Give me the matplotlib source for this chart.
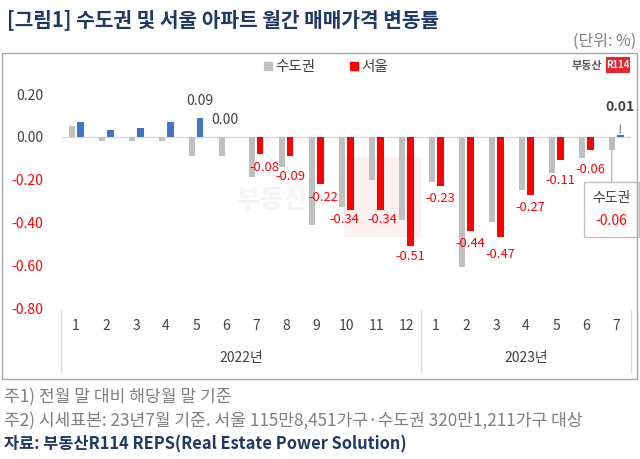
import matplotlib.pyplot as plt
import matplotlib.transforms as mtransforms
from matplotlib.patches import Rectangle
from matplotlib.lines import Line2D
from matplotlib.offsetbox import TextArea, VPacker, AnnotationBbox
import numpy as np

plt.rcParams['font.family'] = ['Noto Sans CJK KR', 'DejaVu Sans']
plt.rcParams['axes.unicode_minus'] = False

# data
months = ['1', '2', '3', '4', '5', '6', '7', '8', '9', '10', '11', '12',
          '1', '2', '3', '4', '5', '6', '7']
years = ['2022년', '2023년']
year_len = [12, 7]
metro = [0.05, -0.02, -0.02, -0.02, -0.09, -0.09, -0.19, -0.14, -0.41, -0.33,
         -0.20, -0.39, -0.21, -0.61, -0.40, -0.25, -0.17, -0.10, -0.06]
seoul = [0.07, 0.03, 0.04, 0.07, 0.09, 0.00, -0.08, -0.09, -0.22, -0.34,
         -0.34, -0.51, -0.23, -0.44, -0.47, -0.27, -0.11, -0.06, 0.01]
yticks = [0.2, 0.0, -0.2, -0.4, -0.6, -0.8]
label_from = 4  # Seoul labels start from 2022/5

GRAY = '#BFBFBF'
RED = '#FF0000'
BLUE = '#4472C4'
NAVY = '#1F3864'
DARK = '#404040'

W, H = 640, 459
fig = plt.figure(figsize=(6.4, 4.59), dpi=100)

def fx(px):
    return px / W

def fy(py):
    return 1 - py / H

# outer panel border
fig.patches.append(Rectangle((fx(2), fy(379)), fx(635), (379 - 53) / H,
                             transform=fig.transFigure, fill=False,
                             edgecolor='#A6A6A6', lw=1))

# title and unit
fig.text(fx(7), fy(20), '[그림1] 수도권 및 서울 아파트 월간 매매가격 변동률',
         fontsize=14.6, fontweight='bold', color=NAVY, va='center', ha='left')
fig.text(fx(636), fy(41), '(단위: %)', fontsize=11.5, color='#7F7F7F',
         va='center', ha='right')

ax = fig.add_axes([fx(61), fy(308), fx(570), (308 - 94) / H])
x = np.arange(len(months))
off, bw = 0.14, 0.22

# faint watermark
ax.text(0.37, 0.5, '부동산', transform=ax.transAxes, fontsize=19,
        fontweight='bold', color='#F4F4F4', ha='center', va='center', zorder=0)
ax.add_patch(Rectangle((0.497, 0.33), 0.135, 0.375, transform=ax.transAxes,
                       facecolor='#FDF0F0', edgecolor='none', zorder=0))

seoul_colors = [BLUE if v >= 0 else RED for v in seoul]
ax.bar(x - off, metro, width=bw, color=GRAY, zorder=2, label='수도권')
ax.bar(x + off, seoul, width=bw, color=seoul_colors, zorder=2, label='서울')
ax.axhline(0, color='#D9D9D9', lw=1, zorder=1)

ax.set_xlim(-0.5, len(months) - 0.5)
ax.set_ylim(-0.8, 0.2)
ax.set_yticks(yticks)
ax.set_yticklabels([f'{v:.2f}' for v in yticks], fontsize=10)
for lbl, v in zip(ax.get_yticklabels(), yticks):
    lbl.set_color(RED if v < 0 else DARK)
ax.tick_params(axis='y', length=0, pad=13)
ax.set_xticks([])
for s in ax.spines.values():
    s.set_visible(False)

# data labels for Seoul (label placement tweaks, in points)
nudge_x = {5: -4, 6: 3, 8: 2, 9: -4, 10: 1.5}
nudge_y = {6: -9.5, 7: -14.5, 8: -9.5, 9: -7.5, 10: -7.5, 11: -7.5,
           12: -9, 13: -9, 14: -12, 15: -9, 16: -14.5, 17: -14.5}
last = len(seoul) - 1
for i in range(label_from, last):
    v = seoul[i]
    dx = nudge_x.get(i, 0)
    if v >= 0:
        ax.annotate(f'{v:.2f}', (x[i] + off, v), xytext=(dx, 12),
                    textcoords='offset points', ha='center', va='center',
                    fontsize=10, color=DARK)
    else:
        ax.annotate(f'{v:.2f}', (x[i] + off, v), xytext=(dx, nudge_y.get(i, -10)),
                    textcoords='offset points', ha='center', va='center',
                    fontsize=9.3, color=RED)
ax.annotate(f'{seoul[last]:.2f}', (x[last] + off, seoul[last]), xytext=(0, 20),
            textcoords='offset points', ha='center', va='center', fontsize=10,
            fontweight='bold', color=DARK,
            arrowprops=dict(arrowstyle='-', color='#7F7F7F', lw=0.8,
                            shrinkA=6, shrinkB=1))

# callout for metro last value
box = VPacker(children=[
    TextArea('수도권', textprops=dict(fontsize=10, color=DARK)),
    TextArea(f'{metro[last]:.2f}', textprops=dict(fontsize=10, color=RED))],
    align='center', pad=0, sep=7)
ab = AnnotationBbox(box, (x[last] - off, metro[last]), xybox=(0, -43),
                    boxcoords='offset points', frameon=True, pad=0.6,
                    bboxprops=dict(edgecolor='#BFBFBF', facecolor='white', lw=1),
                    arrowprops=dict(arrowstyle='-', color='#A6A6A6', lw=0.8,
                                    shrinkA=0, shrinkB=0))
ax.add_artist(ab)

# category labels (two levels)
trans = mtransforms.blended_transform_factory(ax.transData, ax.transAxes)
for i, m in enumerate(months):
    ax.text(x[i], -0.085, m, transform=trans, ha='center', va='center',
            fontsize=10, color=DARK)
start = 0
bounds = [-0.5]
for yr, n in zip(years, year_len):
    ax.text(start + (n - 1) / 2, -0.232, yr, transform=trans, ha='center',
            va='center', fontsize=10, color=DARK)
    start += n
    bounds.append(start - 0.5)
for b in bounds:
    ax.add_line(Line2D([b, b], [-0.01, -0.30], transform=trans, color='#D9D9D9',
                       lw=1, clip_on=False))

# legend
handles = [Line2D([], [], marker='s', ls='none', color=GRAY, markersize=6),
           Line2D([], [], marker='s', ls='none', color=RED, markersize=6)]
fig.legend(handles, ['수도권', '서울'], loc='center', ncol=2,
           bbox_to_anchor=(fx(325), fy(67)), frameon=False, fontsize=10.5,
           handletextpad=0.1, columnspacing=2.2, handlelength=0.8,
           labelcolor=DARK)

# logo
fig.text(fx(602), fy(65), '부동산', fontsize=8, fontweight='bold',
         color='#595959', ha='right', va='center')
fig.patches.append(Rectangle((fx(606), fy(73)), fx(23.5), 16.5 / H,
                             transform=fig.transFigure, facecolor='#E8242F',
                             edgecolor='none'))
fig.text(fx(617.8), fy(65), 'R114', fontsize=6.8, fontweight='bold',
         color='white', ha='center', va='center')

# notes
fig.text(fx(4), fy(397), '주1) 전월 말 대비 해당월 말 기준', fontsize=12.3,
         color='#7F7F7F', va='center')
fig.text(fx(4), fy(421),
         '주2) 시세표본: 23년7월 기준. 서울 115만8,451가구·수도권 320만1,211가구 대상',
         fontsize=12.3, color='#7F7F7F', va='center')
fig.text(fx(4), fy(444), '자료: 부동산R114 REPS(Real Estate Power Solution)',
         fontsize=11.8, fontweight='bold', color=NAVY, va='center')

fig.savefig('out.png', dpi=100)
